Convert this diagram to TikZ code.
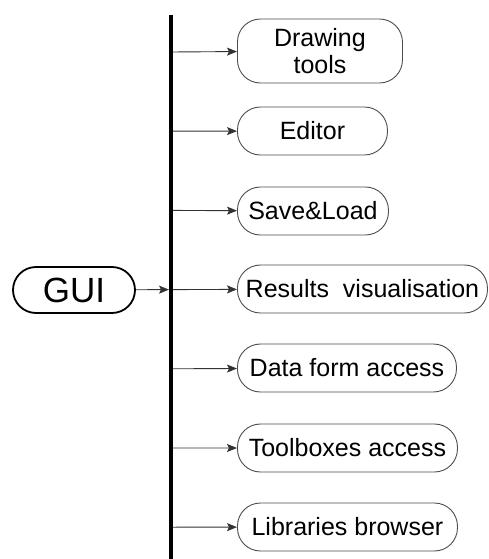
\documentclass[tikz,border=0pt]{standalone}
\usepackage{fontspec}
\setmainfont{Liberation Sans}
\usetikzlibrary{arrows.meta,positioning}
\tikzset{
  unit/.style={draw=black!70, line width=0.9pt, rounded corners=23pt,
    minimum height=48pt, inner xsep=8pt, anchor=west,
    font=\fontsize{25}{27}\selectfont},
  link/.style={draw=black!80, line width=0.9pt, -{Stealth[length=10pt,width=8pt,inset=2pt]}},
}
\begin{document}
\begin{tikzpicture}[x=1pt,y=-1pt]
    \useasboundingbox (0,0) rectangle (489,559);
    % main bus
    \coordinate (bustop) at (171,15);
    \coordinate (busbot) at (171,559);
    \foreach \i in {0,...,6}
        \coordinate (b\i) at (171,52+79.2*\i);
    % GUI on the left
    \node[unit, anchor=center, draw=black, line width=1.8pt, minimum height=46pt,
          minimum width=122pt, font=\fontsize{35}{37}\selectfont] (gui) at (74,290) {GUI};
    % modules
    \node[unit, minimum height=64pt, minimum width=165pt, align=center] (drw) at (237,51) {Drawing\\tools};
    \node[unit, minimum width=150pt] (edit) at (237,131) {Editor};
    \node[unit, minimum width=151pt] (save) at (237,211) {Save\&Load};
    \node[unit, minimum width=250pt] (res) at (237,289) {Results~~visualisation};
    \node[unit, minimum width=219pt] (data) at (237,368) {Data form access};
    \node[unit, minimum width=220pt] (tbox) at (237,448) {Toolboxes access};
    \node[unit, minimum width=220pt] (libs) at (237,527) {Libraries browser};
    % connectors
    \draw[link, shorten >=2pt] (gui) -- (b3);
    \draw[link] (b0) -- (drw);
    \draw[link] (b1) -- (edit);
    \draw[link] (b2) -- (save);
    \draw[link] (b3) -- (res);
    \draw[link] (b4) -- (data);
    \draw[link] (b5) -- (tbox);
    \draw[link] (b6) -- (libs);
    \draw[line width=4pt] (bustop) -- (busbot);
\end{tikzpicture}
\end{document}
